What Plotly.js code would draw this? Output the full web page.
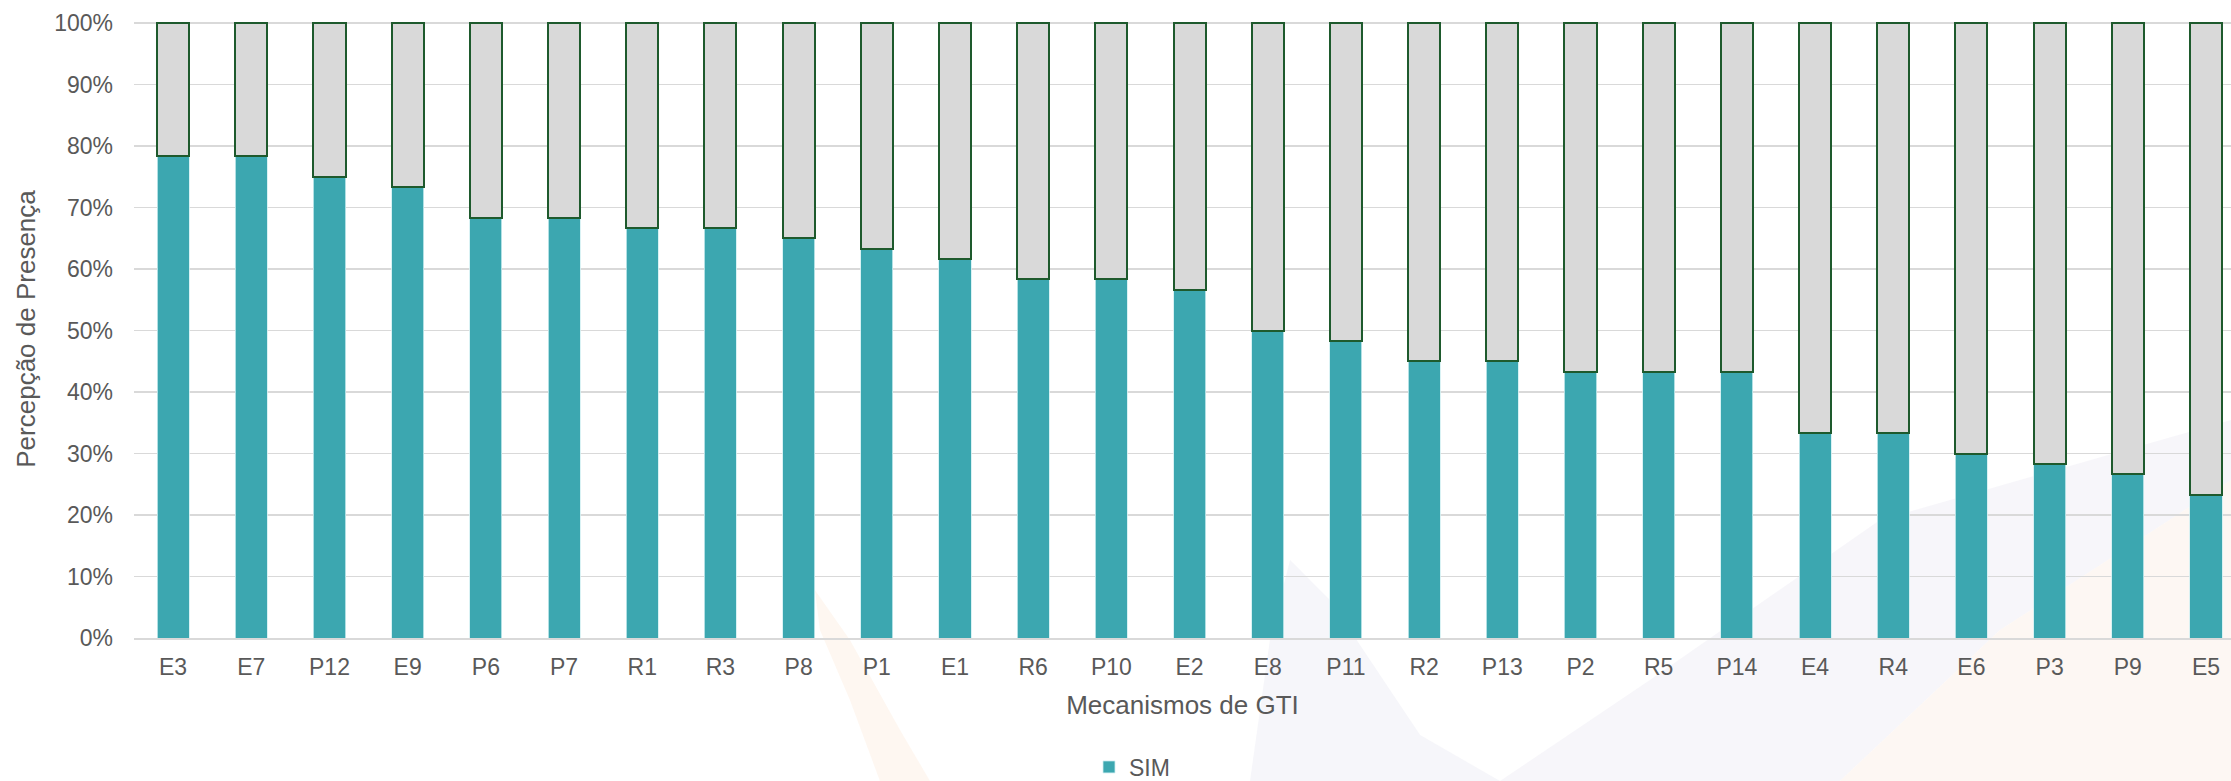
<!DOCTYPE html>
<html>
<head>
<meta charset="utf-8">
<script src="https://cdn.plot.ly/plotly-3.0.1.min.js"></script>
<style>
html,body{margin:0;padding:0;background:#ffffff;}
#chart{width:2231px;height:781px;}
</style>
</head>
<body>
<div id="chart"></div>
<script>
// Categories (Mecanismos de GTI)
const categories = ["E3","E7","P12","E9","P6","P7","R1","R3","P8","P1","E1","R6","P10","E2","E8","P11","R2","P13","P2","R5","P14","E4","R4","E6","P3","P9","E5"];
// Percepção de presença - SIM (%)
const simValues = [78.33,78.33,75.00,73.33,68.33,68.33,66.67,66.67,65.00,63.33,61.67,58.33,58.33,56.67,50.00,48.33,45.00,45.00,43.33,43.33,43.33,33.33,33.33,30.00,28.33,26.67,23.33];
// Restante (NÃO) (%)
const naoValues = [21.67,21.67,25.00,26.67,31.67,31.67,33.33,33.33,35.00,36.67,38.33,41.67,41.67,43.33,50.00,51.67,55.00,55.00,56.67,56.67,56.67,66.67,66.67,70.00,71.67,73.33,76.67];
const yTickVals = [0,10,20,30,40,50,60,70,80,90,100];
const yTickText = ["0%","10%","20%","30%","40%","50%","60%","70%","80%","90%","100%"];

const W = 2231, H = 781;
const M = {l:134, r:0, t:20, b:143, autoexpand:false};
const PW = W - M.l - M.r, PH = H - M.t - M.b;
function px(X){ return (X - M.l) / PW; }
function py(Y){ return (H - M.b - Y) / PH; }
function poly(pts){
  return pts.map((p,i)=> (i?'L':'M') + px(p[0]).toFixed(4) + ',' + py(p[1]).toFixed(4)).join(' ') + ' Z';
}

const txtColor = '#595959';
const font = 'Liberation Sans, Arial, sans-serif';

const traces = [
  {
    type:'bar', name:'SIM', x:categories, y:simValues,
    marker:{color:'#3CA7B0', line:{color:'#CFEFF1', width:0.8}},
    showlegend:true, hoverinfo:'x+y'
  },
  {
    type:'bar', name:'NÃO', x:categories, y:naoValues,
    marker:{color:'#D9D9D9', line:{color:'#1E5A2D', width:2}},
    showlegend:false, hoverinfo:'x+y'
  }
];

// faint background watermark
const shapes = [
  {type:'path', xref:'paper', yref:'paper', layer:'below', line:{width:0},
   fillcolor:'rgba(238,238,245,0.5)',
   path: poly([[1290,560],[1330,600],[1420,735],[1500,781],[1250,781],[1270,640]])},
  {type:'path', xref:'paper', yref:'paper', layer:'below', line:{width:0},
   fillcolor:'rgba(242,241,247,0.65)',
   path: poly([[1500,781],[1650,680],[1880,520],[2231,420],[2231,480],[2000,630],[1840,781]])},
  {type:'path', xref:'paper', yref:'paper', layer:'below', line:{width:0},
   fillcolor:'rgba(252,242,236,0.65)',
   path: poly([[1840,781],[2000,630],[2231,480],[2231,781]])},
  {type:'path', xref:'paper', yref:'paper', layer:'below', line:{width:0},
   fillcolor:'rgba(252,230,210,0.3)',
   path: poly([[815,590],[850,640],[900,730],[930,781],[880,781],[850,700],[820,630]])}
];

const layout = {
  width:W, height:H,
  margin:M,
  barmode:'stack',
  bargap:0.59,
  paper_bgcolor:'rgba(0,0,0,0)',
  plot_bgcolor:'rgba(0,0,0,0)',
  font:{family:font, color:txtColor, size:23},
  showlegend:true,
  legend:{orientation:'h', x:px(1132), xanchor:'center', y:py(767), yanchor:'middle',
          font:{family:font, size:23, color:txtColor}, bgcolor:'rgba(0,0,0,0)',
          traceorder:'normal'},
  xaxis:{
    type:'category', range:[-0.5, 26.32], fixedrange:true,
    showgrid:false, zeroline:false, showline:true, linecolor:'#D9D9D9', linewidth:1.5,
    ticks:'', tickfont:{family:font, size:23, color:txtColor},
    ticklabelstandoff:8,
    title:{text:'Mecanismos de GTI', font:{family:font, size:26, color:txtColor}, standoff:16},
    automargin:false
  },
  yaxis:{
    range:[0,100.5], tickvals:yTickVals, ticktext:yTickText, fixedrange:true,
    showgrid:true, gridcolor:'#D9D9D9', gridwidth:1.5, zeroline:false, showline:false,
    ticks:'', tickfont:{family:font, size:23, color:txtColor},
    ticklabelstandoff:20,
    title:{text:'Percepção de Presença', font:{family:font, size:26, color:txtColor}, standoff:11},
    automargin:false
  },
  shapes:shapes
};

Plotly.newPlot('chart', traces, layout, {displayModeBar:false, staticPlot:true});
</script>
</body>
</html>
